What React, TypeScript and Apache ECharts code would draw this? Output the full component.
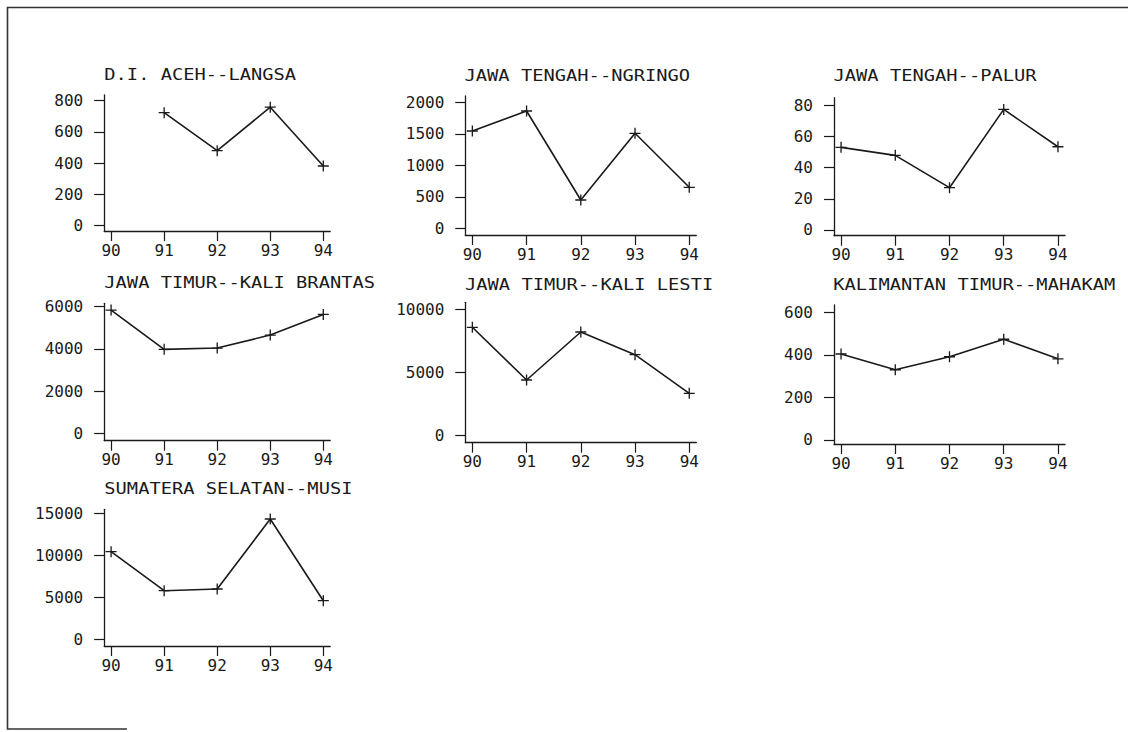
import React, { useEffect, useRef } from "react";
import * as echarts from "echarts";

// ---- data ----
const years = [90, 91, 92, 93, 94];

const titles = [
  "D.I. ACEH--LANGSA",
  "JAWA TENGAH--NGRINGO",
  "JAWA TENGAH--PALUR",
  "JAWA TIMUR--KALI BRANTAS",
  "JAWA TIMUR--KALI LESTI",
  "KALIMANTAN TIMUR--MAHAKAM",
  "SUMATERA SELATAN--MUSI",
];

const aceh = [null, 723, 480, 758, 382];
const ngringo = [1545, 1862, 449, 1508, 651];
const palur = [52.9, 47.8, 27.1, 77.2, 53.3];
const brantas = [5839, 3978, 4040, 4655, 5635];
const lesti = [8576, 4407, 8204, 6408, 3354];
const mahakam = [404, 330, 391, 473, 381];
const musi = [10429, 5786, 5988, 14321, 4595];

const acehTicks = [0, 200, 400, 600, 800];
const ngringoTicks = [0, 500, 1000, 1500, 2000];
const palurTicks = [0, 20, 40, 60, 80];
const brantasTicks = [0, 2000, 4000, 6000];
const lestiTicks = [0, 5000, 10000];
const mahakamTicks = [0, 200, 400, 600];
const musiTicks = [0, 5000, 10000, 15000];

const seriesValues = [aceh, ngringo, palur, brantas, lesti, mahakam, musi];
const seriesTicks = [acehTicks, ngringoTicks, palurTicks, brantasTicks, lestiTicks, mahakamTicks, musiTicks];

// ---- layout (pixels) ----
const layout = [
  { left: 104.2, width: 226, top: 95, height: 136, yMin: -34, yMax: 836, tx: 104.3, ty: 75 },
  { left: 465.3, width: 231, top: 96, height: 139, yMin: -106, yMax: 2100, tx: 464.5, ty: 76 },
  { left: 834, width: 231, top: 97.7, height: 138, yMin: -3.65, yMax: 84.7, tx: 833.5, ty: 76 },
  { left: 104.2, width: 226, top: 303.3, height: 137.4, yMin: -351, yMax: 6161, tx: 104.3, ty: 282.7 },
  { left: 465.3, width: 231, top: 302.3, height: 140.4, yMin: -554, yMax: 10554, tx: 465, ty: 285 },
  { left: 834, width: 231, top: 305, height: 139, yMin: -18.8, yMax: 634, tx: 833.3, ty: 285 },
  { left: 104.2, width: 226, top: 509.3, height: 136.7, yMin: -798, yMax: 15476, tx: 104.3, ty: 489 },
];

const FONT = "'DejaVu Sans Mono', 'Liberation Mono', monospace";
const INK = "#1a1a1a";
const CROSS =
  "path://M-0.6,-5L0.6,-5L0.6,-0.6L5,-0.6L5,0.6L0.6,0.6L0.6,5L-0.6,5L-0.6,0.6L-5,0.6L-5,-0.6L-0.6,-0.6Z";

export default function App() {
  const ref = useRef<HTMLDivElement>(null);

  useEffect(() => {
    if (!ref.current) return;
    const chart = echarts.init(ref.current, null, { renderer: "svg" });

    const grid = layout.map((l) => ({
      left: l.left,
      top: l.top,
      width: l.width,
      height: l.height,
      containLabel: false,
      outerBoundsMode: "none",
    }));

    const xAxis = layout.map((l, i) => ({
      type: "value",
      gridIndex: i,
      min: 89.87,
      max: 94.13,
      axisLine: { show: true, onZero: false, lineStyle: { color: INK, width: 1.3 } },
      axisTick: { show: true, length: 10, customValues: years, lineStyle: { color: INK, width: 1.2 } },
      axisLabel: {
        show: true,
        customValues: years,
        margin: 11,
        fontFamily: FONT,
        fontSize: 16,
        color: INK,
        formatter: (v: number) => String(Math.round(v)),
      },
      splitLine: { show: false },
    }));

    const yAxis = layout.map((l, i) => ({
      type: "value",
      gridIndex: i,
      min: l.yMin,
      max: l.yMax,
      axisLine: { show: true, onZero: false, lineStyle: { color: INK, width: 1.3 } },
      axisTick: { show: true, length: 10, customValues: seriesTicks[i], lineStyle: { color: INK, width: 1.2 } },
      axisLabel: {
        show: true,
        customValues: seriesTicks[i],
        margin: 21,
        padding: [4, 0, 0, 0],
        fontFamily: FONT,
        fontSize: 16,
        color: INK,
        formatter: (v: number) => String(Math.round(v)),
      },
      splitLine: { show: false },
    }));

    const series = seriesValues.map((vals, i) => ({
      type: "line",
      xAxisIndex: i,
      yAxisIndex: i,
      data: years
        .map((y, k) => [y, vals[k]])
        .filter((d) => d[1] !== null && d[1] !== undefined),
      symbol: CROSS,
      symbolSize: 11,
      showAllSymbol: true,
      lineStyle: { color: INK, width: 1.6 },
      itemStyle: { color: INK },
      silent: true,
    }));

    const graphic: any[] = titles.map((t, i) => ({
      type: "text",
      x: layout[i].tx,
      y: layout[i].ty,
      scaleX: 1.25,
      style: {
        text: t,
        font: `15px ${FONT}`,
        fill: INK,
        textVerticalAlign: "middle",
        verticalAlign: "middle",
      },
    }));
    graphic.push({
      type: "polyline",
      shape: { points: [[127, 729], [7.5, 729], [7.5, 7.5], [1128, 7.5]] },
      style: { stroke: "#333", lineWidth: 1.6, fill: "none" },
    });

    chart.setOption({
      animation: false,
      backgroundColor: "#ffffff",
      grid,
      xAxis,
      yAxis,
      series,
      graphic,
    } as any);

    return () => chart.dispose();
  }, []);

  return (
    <div
      ref={ref}
      style={{ position: "fixed", left: 0, top: 0, width: 1128, height: 732, background: "#fff" }}
    />
  );
}
